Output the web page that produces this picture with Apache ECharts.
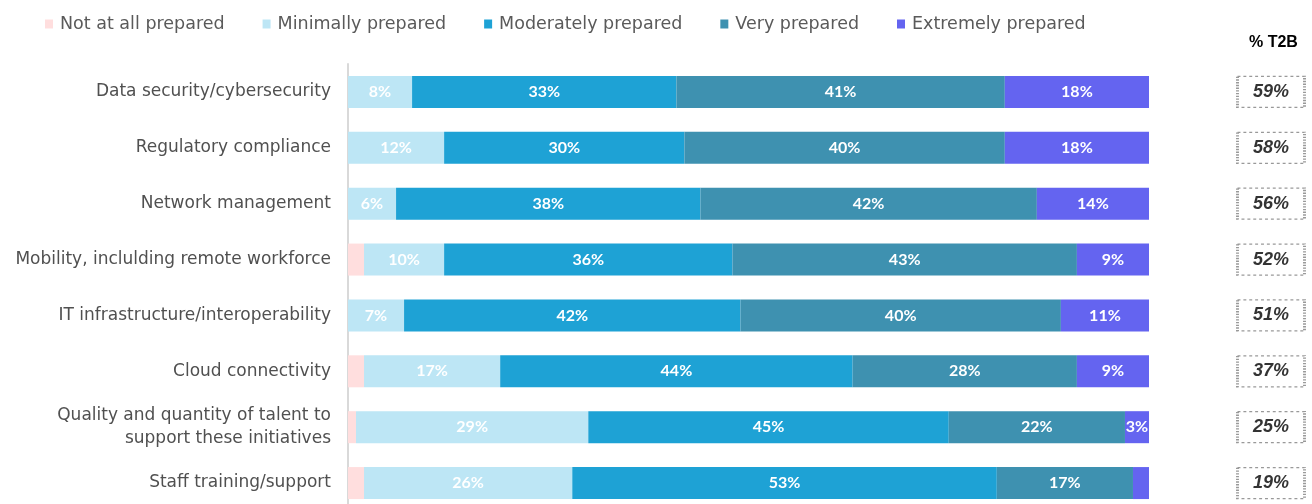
<html>
<head>
    <meta charset="UTF-8"/>
    <title>Preparedness</title>
</head>
<script src="https://cdn.jsdelivr.net/npm/echarts@6/dist/echarts.min.js"></script>
<body style="margin:0;overflow:hidden">
<div id="chart" style="width:1312px;height:530px;"></div>
</body>
<script>
var categories = ['Data security/cybersecurity', 'Regulatory compliance', 'Network management',
    'Mobility, inclulding remote workforce', 'IT infrastructure/interoperability', 'Cloud connectivity',
    'Quality and quantity of talent to\nsupport these initiatives', 'Staff training/support'];
var notAtAll   = [0, 0, 0, 2, 0, 2, 1, 2];
var minimally  = [8, 12, 6, 10, 7, 17, 29, 26];
var moderately = [33, 30, 38, 36, 42, 44, 45, 53];
var very       = [41, 40, 42, 43, 40, 28, 22, 17];
var extremely  = [18, 18, 14, 9, 11, 9, 3, 2];
var t2b        = [59, 58, 56, 52, 51, 37, 25, 19];

var myChart = echarts.init(document.getElementById('chart'));

function barSeries(name, data, color) {
    return {
        name: name,
        type: 'bar',
        stack: 'total',
        barWidth: 32,
        data: data,
        itemStyle: {color: color},
        label: {
            show: true,
            color: '#fff',
            fontWeight: 'bold',
            fontSize: 16,
            fontFamily: 'Lato',
            padding: [3, 0, 0, 0],
            formatter: function (p) { return p.value >= 3 ? p.value + '%' : ''; }
        }
    };
}

var option = {
    animation: false,
    legend: {
        left: 40,
        top: 10,
        itemWidth: 8,
        itemHeight: 9,
        itemGap: 38,
        icon: 'rect',
        textStyle: {color: '#5a5a5a', fontSize: 17.5, fontFamily: 'DejaVu Sans', padding: [0, 0, 0, 2]},
        data: ['Not at all prepared', 'Minimally prepared', 'Moderately prepared', 'Very prepared', 'Extremely prepared']
    },
    title: {
        text: '% T2B',
        left: 1244,
        top: 30,
        textStyle: {fontSize: 16, fontWeight: 'bold', color: '#000', fontFamily: 'Liberation Sans'}
    },
    grid: [
        {left: 348, right: 163, top: 64, height: 447},
        {left: 1237, width: 68, top: 64, height: 447}
    ],
    xAxis: [
        {type: 'value', min: 0, max: 100, show: false, gridIndex: 0},
        {type: 'value', min: 0, max: 1, show: false, gridIndex: 1}
    ],
    yAxis: [
        {
            type: 'category',
            data: categories,
            inverse: true,
            gridIndex: 0,
            axisTick: {show: false},
            axisLine: {lineStyle: {color: '#d9d9d9', width: 2}},
            axisLabel: {color: '#505050', fontSize: 17, fontFamily: 'DejaVu Sans', margin: 17, lineHeight: 23, padding: [5, 0, 0, 0]}
        },
        {type: 'category', data: categories, inverse: true, gridIndex: 1, show: false}
    ],
    series: [
        barSeries('Not at all prepared', notAtAll, '#FFDEDE'),
        barSeries('Minimally prepared', minimally, '#BDE6F5'),
        barSeries('Moderately prepared', moderately, '#1EA2D5'),
        barSeries('Very prepared', very, '#3E91B0'),
        barSeries('Extremely prepared', extremely, '#6464F0'),
        {
            type: 'scatter',
            xAxisIndex: 1,
            yAxisIndex: 1,
            symbol: 'rect',
            symbolSize: [67, 31],
            data: t2b.map(function (v, i) { return [0.5, categories[i], v]; }),
            itemStyle: {color: '#fff', borderColor: '#7f7f7f', borderWidth: 2, borderType: [2, 2]},
            label: {
                show: true,
                position: 'inside',
                color: '#000',
                fontSize: 18,
                fontWeight: 'bold',
                fontStyle: 'italic',
                fontFamily: 'Liberation Sans',
                formatter: function (p) { return p.value[2] + '%'; }
            }
        }
    ]
};
myChart.setOption(option);
</script>
</html>
